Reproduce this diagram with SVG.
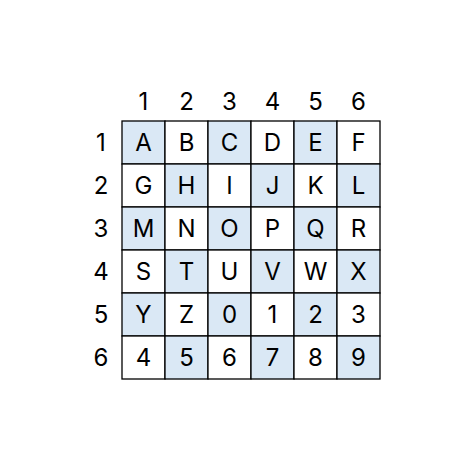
<svg xmlns="http://www.w3.org/2000/svg" width="467" height="461" viewBox="0 0 467 461">
<style>
.c{stroke:#000;stroke-width:1.3}
.s{fill:#dae8f5}
.w{fill:#fff}
text{font-family:Inter,"Noto Sans",sans-serif;font-size:24px;fill:#000;text-anchor:middle;dominant-baseline:central}
</style>
<rect width="467" height="461" fill="#fff"/>
<g id="headers">
<text x="143.5" y="101">1</text><text x="186.5" y="101">2</text><text x="229.5" y="101">3</text><text x="272.5" y="101">4</text><text x="315.5" y="101">5</text><text x="358.5" y="101">6</text>
<text x="101" y="142.5">1</text><text x="101" y="185.5">2</text><text x="101" y="228.5">3</text><text x="101" y="271.5">4</text><text x="101" y="314.5">5</text><text x="101" y="357.5">6</text>
</g>
<g id="grid">
<rect class="c s" x="122" y="121" width="43" height="43"/><rect class="c w" x="165" y="121" width="43" height="43"/><rect class="c s" x="208" y="121" width="43" height="43"/><rect class="c w" x="251" y="121" width="43" height="43"/><rect class="c s" x="294" y="121" width="43" height="43"/><rect class="c w" x="337" y="121" width="43" height="43"/>
<rect class="c w" x="122" y="164" width="43" height="43"/><rect class="c s" x="165" y="164" width="43" height="43"/><rect class="c w" x="208" y="164" width="43" height="43"/><rect class="c s" x="251" y="164" width="43" height="43"/><rect class="c w" x="294" y="164" width="43" height="43"/><rect class="c s" x="337" y="164" width="43" height="43"/>
<rect class="c s" x="122" y="207" width="43" height="43"/><rect class="c w" x="165" y="207" width="43" height="43"/><rect class="c s" x="208" y="207" width="43" height="43"/><rect class="c w" x="251" y="207" width="43" height="43"/><rect class="c s" x="294" y="207" width="43" height="43"/><rect class="c w" x="337" y="207" width="43" height="43"/>
<rect class="c w" x="122" y="250" width="43" height="43"/><rect class="c s" x="165" y="250" width="43" height="43"/><rect class="c w" x="208" y="250" width="43" height="43"/><rect class="c s" x="251" y="250" width="43" height="43"/><rect class="c w" x="294" y="250" width="43" height="43"/><rect class="c s" x="337" y="250" width="43" height="43"/>
<rect class="c s" x="122" y="293" width="43" height="43"/><rect class="c w" x="165" y="293" width="43" height="43"/><rect class="c s" x="208" y="293" width="43" height="43"/><rect class="c w" x="251" y="293" width="43" height="43"/><rect class="c s" x="294" y="293" width="43" height="43"/><rect class="c w" x="337" y="293" width="43" height="43"/>
<rect class="c w" x="122" y="336" width="43" height="43"/><rect class="c s" x="165" y="336" width="43" height="43"/><rect class="c w" x="208" y="336" width="43" height="43"/><rect class="c s" x="251" y="336" width="43" height="43"/><rect class="c w" x="294" y="336" width="43" height="43"/><rect class="c s" x="337" y="336" width="43" height="43"/>
</g>
<g id="labels">
<text x="143.5" y="142.5">A</text><text x="186.5" y="142.5">B</text><text x="229.5" y="142.5">C</text><text x="272.5" y="142.5">D</text><text x="315.5" y="142.5">E</text><text x="358.5" y="142.5">F</text>
<text x="143.5" y="185.5">G</text><text x="186.5" y="185.5">H</text><text x="229.5" y="185.5">I</text><text x="272.5" y="185.5">J</text><text x="315.5" y="185.5">K</text><text x="358.5" y="185.5">L</text>
<text x="143.5" y="228.5">M</text><text x="186.5" y="228.5">N</text><text x="229.5" y="228.5">O</text><text x="272.5" y="228.5">P</text><text x="315.5" y="228.5">Q</text><text x="358.5" y="228.5">R</text>
<text x="143.5" y="271.5">S</text><text x="186.5" y="271.5">T</text><text x="229.5" y="271.5">U</text><text x="272.5" y="271.5">V</text><text x="315.5" y="271.5">W</text><text x="358.5" y="271.5">X</text>
<text x="143.5" y="314.5">Y</text><text x="186.5" y="314.5">Z</text><text x="229.5" y="314.5">0</text><text x="272.5" y="314.5">1</text><text x="315.5" y="314.5">2</text><text x="358.5" y="314.5">3</text>
<text x="143.5" y="357.5">4</text><text x="186.5" y="357.5">5</text><text x="229.5" y="357.5">6</text><text x="272.5" y="357.5">7</text><text x="315.5" y="357.5">8</text><text x="358.5" y="357.5">9</text>
</g>
</svg>
